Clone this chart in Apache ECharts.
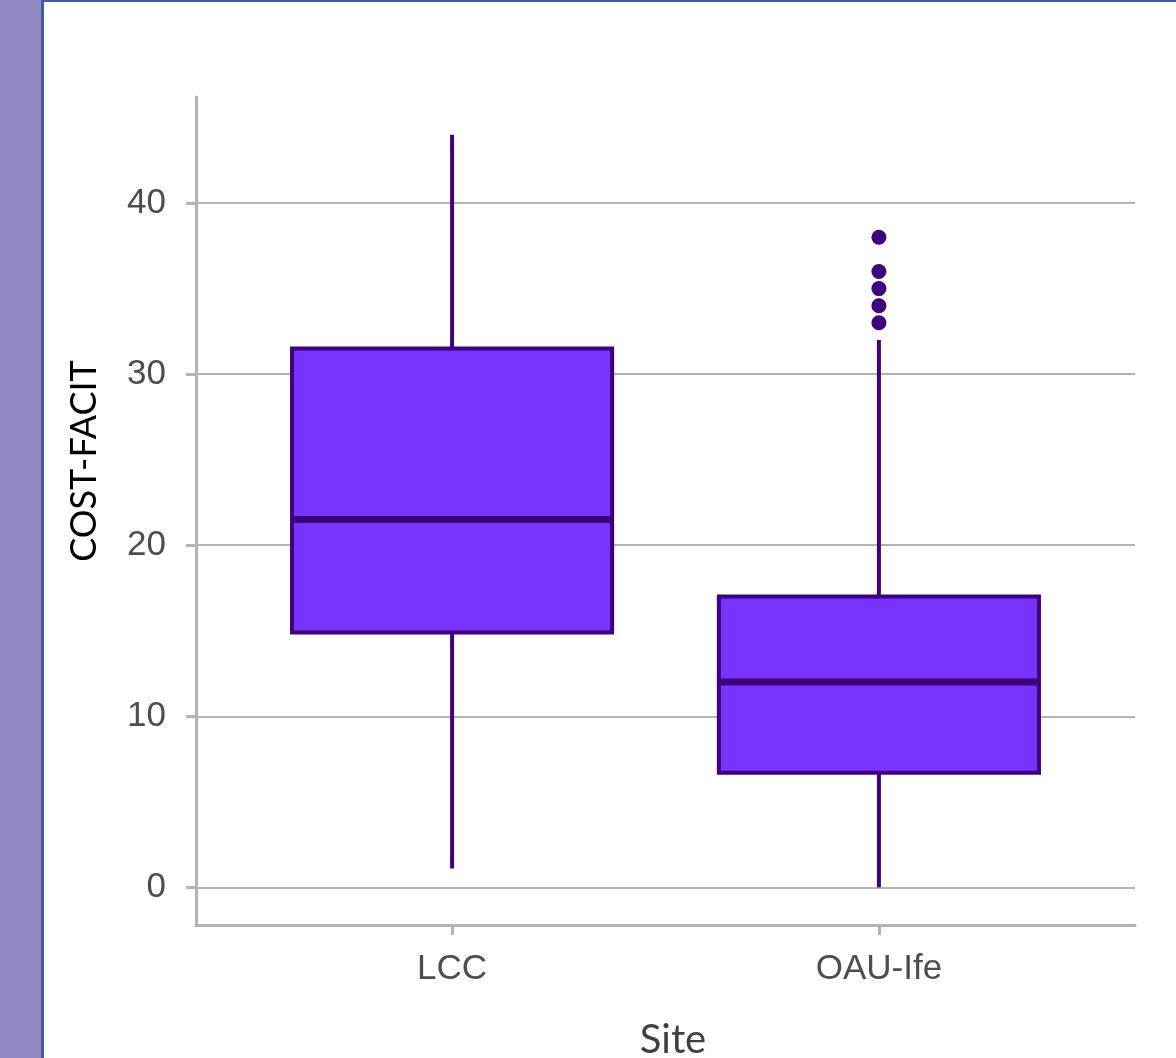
<!DOCTYPE html>
<html><head><meta charset="utf-8">
<script src="https://cdn.jsdelivr.net/npm/echarts@6/dist/echarts.min.js"></script>
<style>html,body{margin:0;padding:0;background:#fff}#c{width:1176px;height:1058px}</style>
</head><body><div id="c"></div>
<script>
// ---- data ----
const categories = ['LCC', 'OAU-Ife'];
const lowerWhisker = [1.1, 0];
const q1 = [14.9, 6.7];
const median = [21.5, 12];
const q3 = [31.5, 17];
const upperWhisker = [44, 32];
const outlierCategory = ['OAU-Ife', 'OAU-Ife', 'OAU-Ife', 'OAU-Ife', 'OAU-Ife'];
const outlierValues = [33, 34, 35, 36, 38];
const yTicks = [0, 10, 20, 30, 40];
const xTitle = 'Site';
const yTitle = 'COST-FACIT';

// ---- styles ----
const dark = '#3f007d';
const boxFill = '#7833ff';
const axisGrey = '#b3b3b3';
const labelGrey = '#4d4d4d';

const chart = echarts.init(document.getElementById('c'), null, {renderer: 'canvas'});

const boxData = categories.map((c, i) => [i + 1, lowerWhisker[i], q1[i], median[i], q3[i], upperWhisker[i]]);
const outData = outlierValues.map((v, i) => [categories.indexOf(outlierCategory[i]) + 1, v]);

function renderBox(params, api) {
  const x = api.value(0);
  const lo = api.value(1), a = api.value(2), m = api.value(3), b = api.value(4), hi = api.value(5);
  const hw = 0.375;
  const pTop = api.coord([x, hi]), pQ3 = api.coord([x, b]), pQ1 = api.coord([x, a]), pLo = api.coord([x, lo]);
  const left = api.coord([x - hw, m])[0], right = api.coord([x + hw, m])[0];
  const pm = api.coord([x, m]);
  return {type: 'group', children: [
    {type: 'line', shape: {x1: pTop[0], y1: pTop[1], x2: pQ3[0], y2: pQ3[1]}, style: {stroke: dark, lineWidth: 4}},
    {type: 'line', shape: {x1: pQ1[0], y1: pQ1[1], x2: pLo[0], y2: pLo[1]}, style: {stroke: dark, lineWidth: 4}},
    {type: 'rect', shape: {x: left, y: pQ3[1], width: right - left, height: pQ1[1] - pQ3[1]}, style: {fill: boxFill, stroke: dark, lineWidth: 4}},
    {type: 'line', shape: {x1: left, y1: pm[1], x2: right, y2: pm[1]}, style: {stroke: dark, lineWidth: 7}}
  ]};
}

chart.setOption({
  animation: false,
  backgroundColor: '#ffffff',
  grid: {left: 196, right: 41, top: 97, bottom: 133},
  xAxis: {
    type: 'value', min: 0.4, max: 2.6,
    axisLine: {show: true, onZero: false, lineStyle: {color: axisGrey, width: 3}},
    axisTick: {show: true, length: 10, customValues: [1, 2], lineStyle: {color: axisGrey, width: 3}},
    axisLabel: {customValues: [1, 2], formatter: v => categories[Math.round(v) - 1] || '',
      fontFamily: 'Liberation Sans', fontSize: 35, color: labelGrey, margin: 27},
    splitLine: {show: false}
  },
  yAxis: {
    type: 'value', min: -2.2, max: 46.2,
    axisLine: {show: true, lineStyle: {color: axisGrey, width: 3}},
    axisTick: {show: true, length: 10, customValues: yTicks, lineStyle: {color: axisGrey, width: 3}},
    axisLabel: {customValues: yTicks, fontFamily: 'Liberation Sans', fontSize: 35, color: labelGrey, margin: 30},
    splitLine: {show: true, lineStyle: {color: axisGrey, width: 2}}
  },
  graphic: [
    {type: 'rect', left: 0, top: 0, shape: {width: 41, height: 1058}, style: {fill: '#9189c2'}, z: 100},
    {type: 'rect', left: 41, top: 0, shape: {width: 3, height: 1058}, style: {fill: '#3e5d9e'}, z: 100},
    {type: 'rect', left: 41, top: 0, shape: {width: 1135, height: 2}, style: {fill: '#3e5d9e'}, z: 100},
    {type: 'text', x: 673, y: 1040, z: 100,
      style: {text: xTitle, fontFamily: 'Lato', fontSize: 40, fill: '#404040', align: 'center', verticalAlign: 'middle'}},
    {type: 'text', x: 84, y: 461, rotation: Math.PI / 2, z: 100,
      style: {text: yTitle, fontFamily: 'Lato', fontSize: 36, fill: '#000000', align: 'center', verticalAlign: 'middle'}}
  ],
  series: [
    {type: 'custom', renderItem: renderBox, data: boxData, encode: {x: 0, y: [1, 2, 3, 4, 5]}, z: 3},
    {type: 'scatter', data: outData, symbol: 'circle', symbolSize: 15, itemStyle: {color: dark, opacity: 1}, z: 4}
  ]
});
</script>
</body></html>
